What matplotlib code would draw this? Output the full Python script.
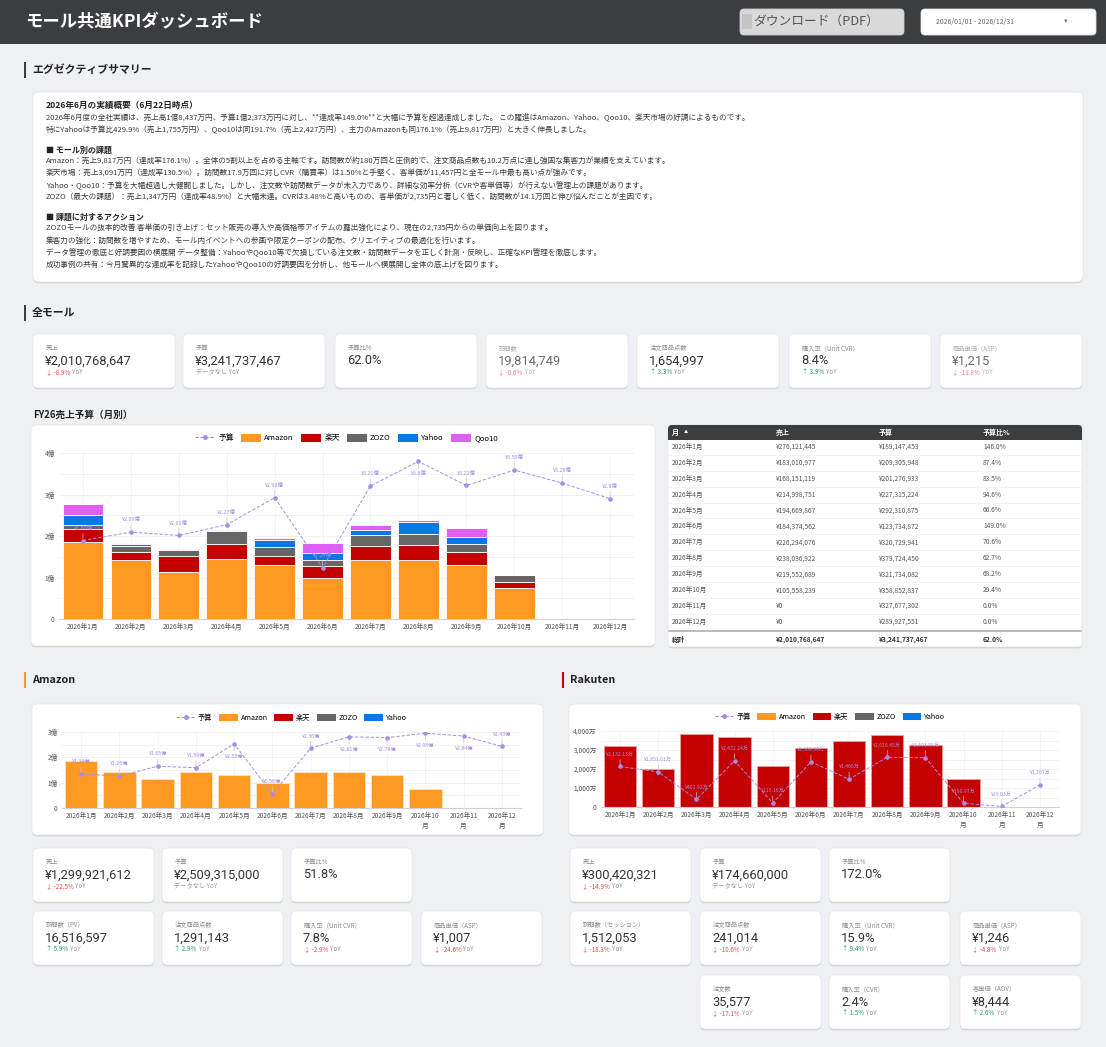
import matplotlib
matplotlib.use("Agg")
import matplotlib.pyplot as plt
from matplotlib.patches import FancyBboxPatch, Rectangle, Patch
from matplotlib.lines import Line2D
import numpy as np

plt.rcParams['font.family'] = ['Noto Sans CJK JP', 'DejaVu Sans']

W, H = 1106, 1047

# ---- データ ----
months = [f'2026年{m}月' for m in range(1, 13)]
amazon_oku = [1.855, 1.42, 1.13, 1.44, 1.30, 0.98, 1.42, 1.41, 1.29, 0.75, 0, 0]
rakuten_man = [3210, 2020, 3860, 3670, 2140, 3091, 3490, 3810, 3280, 1490, 0, 0]
zozo_oku = [0.10, 0.14, 0.15, 0.32, 0.225, 0.1347, 0.255, 0.265, 0.18, 0.157, 0, 0]
yahoo_oku = [0.22, 0.035, 0.006, 0.003, 0.155, 0.1755, 0.13, 0.29, 0.18, 0, 0, 0]
qoo10_oku = [0.265, 0.033, 0.01, 0.018, 0.053, 0.2427, 0.11, 0.034, 0.218, 0, 0, 0]

budget_amazon_oku = [1.34, 1.26, 1.65, 1.59, 2.53, 0.5575, 2.36, 2.81, 2.78, 2.95, 2.84, 2.43]
budget_rakuten_man = [2132.13, 1851.61, 402.92, 2432.24, 215.16, 2368.94, 1466, 2616.45,
                      2593.55, 190.97, 29.03, 1167]

table_sales = [276121445, 183010977, 168151119, 214998751, 194669867, 184374562,
               226294076, 238036922, 219552689, 105558239, 0, 0]
table_budget = [189147453, 209305948, 201276933, 227315224, 292310875, 123734872,
                320729941, 379724450, 321734082, 358852837, 327677302, 289927551]
table_total = ['¥2,010,768,647', '¥3,241,737,467', '62.0%']

kpi_all = [('売上', '¥2,010,768,647', '-8.9%'), ('予算', '¥3,241,737,467', 'データなし'),
           ('予算比%', '62.0%', ''), ('訪問数', '19,814,749', '-0.6%'),
           ('注文商品点数', '1,654,997', '3.3%'), ('購入率（Unit CVR）', '8.4%', '3.9%'),
           ('商品単価（ASP）', '¥1,215', '-11.8%')]
kpi_amazon = [('売上', '¥1,299,921,612', '-22.5%'), ('予算', '¥2,509,315,000', 'データなし'),
              ('予算比%', '51.8%', ''), ('訪問数（PV）', '16,516,597', '5.9%'),
              ('注文商品点数', '1,291,143', '2.9%'), ('購入率（Unit CVR）', '7.8%', '-2.9%'),
              ('商品単価（ASP）', '¥1,007', '-24.6%')]
kpi_rakuten = [('売上', '¥300,420,321', '-14.9%'), ('予算', '¥174,660,000', 'データなし'),
               ('予算比%', '172.0%', ''), ('訪問数（セッション）', '1,512,053', '-18.3%'),
               ('注文商品点数', '241,014', '-10.6%'), ('購入率（Unit CVR）', '15.9%', '9.4%'),
               ('商品単価（ASP）', '¥1,246', '-4.8%'), ('注文数', '35,577', '-17.1%'),
               ('購入率（CVR）', '2.4%', '1.5%'), ('客単価（AOV）', '¥8,444', '2.6%')]

summary_lines = [
    ('2026年6月の実績概要（6月22日時点）', True),
    ('2026年6月度の全社実績は、売上高1億8,437万円、予算1億2,373万円に対し、**達成率149.0%**と大幅に予算を超過達成しました。 この躍進はAmazon、Yahoo、Qoo10、楽天市場の好調によるものです。', False),
    ('特にYahooは予算比429.9%（売上1,755万円）、Qoo10は同191.7%（売上2,427万円）、主力のAmazonも同176.1%（売上9,817万円）と大きく伸長しました。', False),
    ('■ モール別の課題', True),
    ('Amazon：売上9,817万円（達成率176.1%）。全体の5割以上を占める主軸です。訪問数が約180万回と圧倒的で、注文商品点数も10.2万点に達し強固な集客力が業績を支えています。', False),
    ('楽天市場：売上3,091万円（達成率130.5%）。訪問数17.9万回に対しCVR（購買率）は1.50%と手堅く、客単価が11,457円と全モール中最も高い点が強みです。', False),
    ('Yahoo・Qoo10：予算を大幅超過し大健闘しました。しかし、注文数や訪問数データが未入力であり、詳細な効率分析（CVRや客単価等）が行えない管理上の課題があります。', False),
    ('ZOZO（最大の課題）：売上1,347万円（達成率48.9%）と大幅未達。CVRは3.48%と高いものの、客単価が2,735円と著しく低く、訪問数が14.1万回と伸び悩んだことが主因です。', False),
    ('■ 課題に対するアクション', True),
    ('ZOZOモールの抜本的改善 客単価の引き上げ：セット販売の導入や高価格帯アイテムの露出強化により、現在の2,735円からの単価向上を図ります。', False),
    ('集客力の強化：訪問数を増やすため、モール内イベントへの参画や限定クーポンの配布、クリエイティブの最適化を行います。', False),
    ('データ管理の徹底と好調要因の横展開 データ整備：YahooやQoo10等で欠損している注文数・訪問数データを正しく計測・反映し、正確なKPI管理を徹底します。', False),
    ('成功事例の共有：今月驚異的な達成率を記録したYahooやQoo10の好調要因を分析し、他モールへ横展開し全体の底上げを図ります。', False),
]

# ---- 色 ----
C_AMZ, C_RAK, C_ZOZO, C_YAH, C_QOO = '#ff9922', '#c40000', '#666666', '#0a78e2', '#df5ef3'
C_BUD = '#a88de6'
C_BG = '#eff0f4'
C_DARK = '#3c3d41'
NUM_FONT = ['Roboto', 'Noto Sans CJK JP']

fig = plt.figure(figsize=(W / 100, H / 100), dpi=100, facecolor=C_BG)
bg = fig.add_axes([0, 0, 1, 1])
bg.set_xlim(0, W)
bg.set_ylim(H, 0)
bg.axis('off')
renderer = fig.canvas.get_renderer()


def px_rect(l, t, r, b):
    return [l / W, 1 - b / H, (r - l) / W, (b - t) / H]


def card(x, y, w, h, r=5):
    bg.add_patch(FancyBboxPatch((x, y + 1.3), w, h, boxstyle=f'round,pad=0,rounding_size={r}',
                                fc='#c5c6cb', ec='none', alpha=0.75))
    bg.add_patch(FancyBboxPatch((x, y), w, h, boxstyle=f'round,pad=0,rounding_size={r}',
                                fc='white', ec='#e3e4e7', lw=0.5))


def text_end(t):
    bb = t.get_window_extent(renderer=renderer)
    return bg.transData.inverted().transform((bb.x1, bb.y0))[0]


def kpi(x, y, w, h, item, faded=False):
    label, value, yoy = item
    card(x, y, w, h)
    a = 0.72 if faded else 1.0
    bg.text(x + 12.5, y + 14, label, fontsize=4.5, color='#8c8c8c', va='center', alpha=a)
    bg.text(x + 12, y + 27, value, fontsize=9.3, color='#333333', va='center',
            family=NUM_FONT, alpha=a)
    if yoy == 'データなし':
        bg.text(x + 12.5, y + 38.5, 'データなし YoY', fontsize=4.5, color='#9a9a9a',
                va='center', alpha=a)
    elif yoy:
        down = yoy.startswith('-')
        t = bg.text(x + 12.5, y + 38, ('↓ ' if down else '↑ ') + yoy, fontsize=4.5,
                    color='#e5484d' if down else '#1f9d55', va='center', alpha=a)
        bg.text(text_end(t) + 2, y + 38, 'YoY', fontsize=4.5, color='#9a9a9a',
                va='center', alpha=a)


def section(x, y, label, color):
    bg.add_patch(Rectangle((x, y - 8), 2, 16, fc=color, ec='none'))
    bg.text(x + 8, y, label, fontsize=7.8, fontweight='bold', color='#222222', va='center')


def fmt_oku(v):
    return f'¥{round(v, 2):g}億'


def fmt_man(v):
    s = f'{v:,.2f}'
    if s.endswith('.00'):
        s = s[:-3]
    return f'¥{s}万'


def bar_chart(rect, stacks, budget, ymax, ystep, ylabels, labels, below, legend_y,
              legend_items, wrap, edge, lfs, lbl_fs):
    l, t, r, b = rect
    ax = fig.add_axes(px_rect(l, t, r, b))
    ax.set_facecolor('none')
    x = np.arange(12)
    bottom = np.zeros(12)
    for vals, col in stacks:
        v = np.array(vals, dtype=float)
        ax.bar(x, v, 0.85, bottom=bottom, color=col, edgecolor=edge, linewidth=0.6, zorder=2)
        bottom += v
    ax.plot(x, budget, color=C_BUD, lw=0.7, ls=(0, (3.5, 1.8)), marker='o', ms=2.3, zorder=5)
    for i, (v, lab) in enumerate(zip(budget, labels)):
        dn = i in below
        ax.annotate(lab, (i, v), xytext=(0, -7 if dn else 7), textcoords='offset points',
                    ha='center', va='top' if dn else 'bottom', fontsize=lbl_fs, color='#a48ae2',
                    arrowprops=dict(arrowstyle='-', color='#c9c9c9', lw=0.5, shrinkA=0, shrinkB=1.5),
                    zorder=6)
    ax.set_xlim(-0.5, 11.5)
    ax.set_ylim(0, ymax)
    ax.set_yticks(np.arange(0, ymax + ystep / 2, ystep))
    ax.set_yticklabels(ylabels)
    ax.set_yticks(np.arange(0, ymax + ystep / 4, ystep / 2), minor=True)
    ax.grid(axis='y', which='both', color='#f0f0f0', lw=0.6, zorder=0)
    for xi in x:
        ax.axvline(xi, color='#f3f3f3', lw=0.6, zorder=0)
    ax.set_xticks(x)
    ticks = [m[:-1] + '\n' + m[-1] if (wrap and len(m) >= 8) else m for m in months]
    ax.set_xticklabels(ticks, linespacing=1.25, va='top')
    ax.tick_params(length=0, labelsize=4.8, colors='#555555', pad=3)
    ax.tick_params(axis='y', which='minor', length=0)
    for s in ['top', 'right', 'left']:
        ax.spines[s].set_visible(False)
    ax.spines['bottom'].set_color('#d0d0d0')
    ax.spines['bottom'].set_linewidth(0.8)
    handles = [Line2D([0], [0], color=C_BUD, lw=0.8, ls=(0, (3, 1.5)), marker='o', ms=2.5)]
    names = ['予算']
    for name, col in legend_items:
        handles.append(Patch(fc=col, ec='none'))
        names.append(name)
    yl = 1 + (t - legend_y) / (b - t)
    ax.legend(handles, names, loc='center', bbox_to_anchor=(0.5, yl), ncol=len(names),
              frameon=False, fontsize=lfs, handlelength=2.6, handleheight=1.2,
              columnspacing=0.9, handletextpad=0.4, borderaxespad=0)
    return ax


# ---- ヘッダー ----
bg.add_patch(Rectangle((0, 0), W, 44, fc=C_DARK, ec='none'))
bg.text(25, 22, 'モール共通KPIダッシュボード', color='white', fontsize=12.5, fontweight='bold', va='center')
bg.add_patch(FancyBboxPatch((740, 9), 164, 26, boxstyle='round,pad=0,rounding_size=4',
                            fc='#d9d9d9', ec='#cbcbcb', lw=0.6))
bg.add_patch(Rectangle((742, 14), 10, 15, fc='#c4c4c4', ec='none'))
bg.text(753, 22, 'ダウンロード（PDF）', fontsize=9.2, color='#555555', va='center')
bg.add_patch(FancyBboxPatch((921, 9), 175, 26, boxstyle='round,pad=0,rounding_size=4',
                            fc='white', ec='#dddddd', lw=0.6))
bg.text(936, 22, '2026/01/01 - 2026/12/31', fontsize=5.0, color='#666666', va='center')
bg.text(1066, 21, '▾', fontsize=5.0, color='#777777', va='center', ha='center')

# ---- エグゼクティブサマリー ----
section(24, 70, 'エグゼクティブサマリー', C_DARK)
card(33, 92, 1050, 190, r=6)
summary_y = [105.5, 118, 130, 150, 162, 174, 186, 198, 217, 229, 241, 253, 265]
for (line, bold), yy in zip(summary_lines, summary_y):
    bg.text(46, yy, line, fontsize=6.2 if bold and line.startswith('2026') else (5.8 if bold else 5.5),
            fontweight='bold' if bold else 'normal', color='#222222' if bold else '#3a3a3a',
            va='center')

# ---- 全モール ----
section(24, 313, '全モール', C_DARK)
card_x = [33, 183, 335, 486, 637, 789, 940]
for i, (cx, item) in enumerate(zip(card_x, kpi_all)):
    kpi(cx, 334, 142, 54, item, faded=i in (3, 6))

bg.text(33, 415, 'FY26売上予算（月別）', fontsize=6.9, fontweight='bold', color='#222222', va='center')
card(31, 425, 624, 221)
all_legend = [('Amazon', C_AMZ), ('楽天', C_RAK), ('ZOZO', C_ZOZO), ('Yahoo', C_YAH), ('Qoo10', C_QOO)]
rak_oku = [v / 10000 for v in rakuten_man]
budget_oku = [v / 1e8 for v in table_budget]
bar_chart((59, 453, 634, 619),
          [(amazon_oku, C_AMZ), (rak_oku, C_RAK), (zozo_oku, C_ZOZO), (yahoo_oku, C_YAH), (qoo10_oku, C_QOO)],
          budget_oku, 4, 1, ['0', '1億', '2億', '3億', '4億'], [fmt_oku(v) for v in budget_oku],
          {7}, 438, all_legend, False, 'white', 5.6, 3.9)

# ---- テーブル ----
card(668, 425, 414, 222, r=4)
bg.add_patch(FancyBboxPatch((668, 425), 414, 15, boxstyle='round,pad=0,rounding_size=4',
                            fc=C_DARK, ec='none'))
bg.add_patch(Rectangle((668, 433), 414, 7, fc=C_DARK, ec='none'))
col_x = [672, 776, 879, 983]
for cx, name in zip(col_x, ['月', '売上', '予算', '予算比%']):
    bg.text(cx, 432.5, name, fontsize=5.0, fontweight='bold', color='white', va='center')
bg.text(684, 432, '▲', fontsize=3.0, color='white', va='center')
for i, (m, s, bd) in enumerate(zip(months, table_sales, table_budget)):
    yy = 446.7 + i * 15.94
    row = [m, f'¥{s:,}', f'¥{bd:,}', f'{s / bd * 100:.1f}%']
    for cx, v in zip(col_x, row):
        bg.text(cx, yy, v, fontsize=4.8, color='#555555', va='center')
    if i < 11:
        bg.plot([669, 1081], [yy + 8, yy + 8], color='#eeeeee', lw=0.5)
bg.plot([669, 1081], [631, 631], color='#a8a8a8', lw=1.1)
for cx, v in zip(col_x, ['総計'] + table_total):
    bg.text(cx, 639.5, v, fontsize=4.8, fontweight='bold', color='#333333', va='center')

# ---- Amazon ----
sub_legend = [('Amazon', C_AMZ), ('楽天', C_RAK), ('ZOZO', C_ZOZO), ('Yahoo', C_YAH)]
section(24, 680, 'Amazon', C_AMZ)
card(32, 704, 511, 131)
bar_chart((62, 732, 521, 808), [(amazon_oku, C_AMZ)], budget_amazon_oku, 3, 1,
          ['0', '1億', '2億', '3億'], [fmt_oku(v) for v in budget_amazon_oku],
          {4, 7, 8, 9, 10}, 718, sub_legend, True, '#ffe2bf', 5.2, 3.8)

am_pos = [(33, 848), (162, 848), (291, 848), (33, 911), (162, 911), (291, 911), (421, 911)]
for (cx, cy), item in zip(am_pos, kpi_amazon):
    kpi(cx, cy, 121, 54, item)

# ---- Rakuten ----
section(562, 680, 'Rakuten', C_RAK)
card(569, 704, 512, 131)
bar_chart((601, 731, 1059, 807), [(rakuten_man, C_RAK)], budget_rakuten_man, 4000, 1000,
          ['0', '1,000万', '2,000万', '3,000万', '4,000万'], [fmt_man(v) for v in budget_rakuten_man],
          set(), 717, sub_legend, True, '#eaa0a0', 5.2, 3.7)

rk_pos = [(570, 848), (700, 848), (829, 848), (570, 911), (700, 911), (829, 911), (960, 911),
          (700, 975), (829, 975), (960, 975)]
for (cx, cy), item in zip(rk_pos, kpi_rakuten):
    kpi(cx, cy, 121, 54, item)

fig.savefig('out.png', dpi=100, facecolor=C_BG)
